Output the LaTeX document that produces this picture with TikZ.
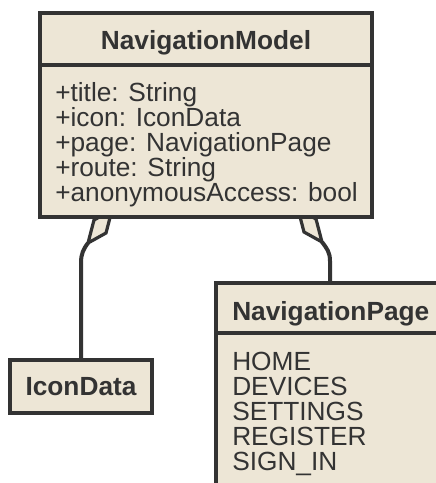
\documentclass[tikz,border=0pt]{standalone}
\usepackage{fontspec}
\setmainfont{Liberation Sans}
\usetikzlibrary{calc,backgrounds}
\definecolor{boxfill}{RGB}{237,230,214}
\definecolor{ink}{RGB}{51,51,51}
\begin{document}
\begin{tikzpicture}[x=0.75pt,y=-0.75pt,
  classbox/.style={draw=ink, line width=3pt, fill=boxfill, inner sep=0pt, outer sep=0pt},
  sepline/.style={draw=ink, line width=2.6pt},
  conn/.style={draw=ink, line width=3pt},
  agg/.style={draw=ink, line width=2.4pt, fill=boxfill, line join=miter},
  hdr/.style={font=\fontsize{19.7}{22}\selectfont\bfseries, text=ink, inner sep=0pt},
  attr/.style={font=\fontsize{19.7}{22}\selectfont, text=ink, inner sep=0pt, anchor=base west}]
\clip (0,0) rectangle (436,483);
% class boxes
\node[classbox, minimum width=249pt, minimum height=153pt] (model) at (206,115) {};
\node[classbox, hdr, minimum width=106.5pt, minimum height=39.75pt] (icon) at (81,386.5) {IconData};
\node[classbox, minimum width=171pt, minimum height=170.25pt] (page) at (330,396.5) {};
% compartments
\draw[sepline] ($(model.north west)+(0,52)$) -- ($(model.north east)+(0,52)$);
\draw[sepline] ($(page.north west)+(0,50)$) -- ($(page.north east)+(0,50)$);
% texts
\node[hdr, anchor=base] (modeltitle) at (206,49) {NavigationModel};
\node[attr] (a1) at (55,101) {+title: String};
\node[attr] (a2) at (55,126) {+icon: IconData};
\node[attr] (a3) at (55,151) {+page: NavigationPage};
\node[attr] (a4) at (55,176) {+route: String};
\node[attr] (a5) at (55,201) {+anonymousAccess: bool};
\node[hdr, anchor=base west] (pagetitle) at (232,320) {NavigationPage};
\node[attr] (e1) at (232,370) {HOME};
\node[attr] (e2) at (232,395) {DEVICES};
\node[attr] (e3) at (232,420) {SETTINGS};
\node[attr] (e4) at (232,445) {REGISTER};
\node[attr] (e5) at (232,470) {SIGN\_IN};
% connectors
\coordinate (dLtop) at (112,210);
\coordinate (dLa) at (94,220);
\coordinate (dLtip) at (88,243);
\coordinate (dLb) at (106,233);
\coordinate (dRtop) at (298,209);
\coordinate (dRa) at (316,219);
\coordinate (dRtip) at (322,242);
\coordinate (dRb) at (304,232);
\begin{scope}[on background layer]
\fill[white] (0,0) rectangle (436,483);
\draw[conn] (dLtip) .. controls (83.2,249.4) and (81,254) .. (81,263) -- (icon.north);
\draw[conn] (dRtip) .. controls (326.8,248.4) and (330,252) .. (330,261) -- (page.north);
\draw[agg] (dLtop) -- (dLa) -- (dLtip) -- (dLb) -- cycle;
\draw[agg] (dRtop) -- (dRa) -- (dRtip) -- (dRb) -- cycle;
\end{scope}
\end{tikzpicture}
\end{document}
